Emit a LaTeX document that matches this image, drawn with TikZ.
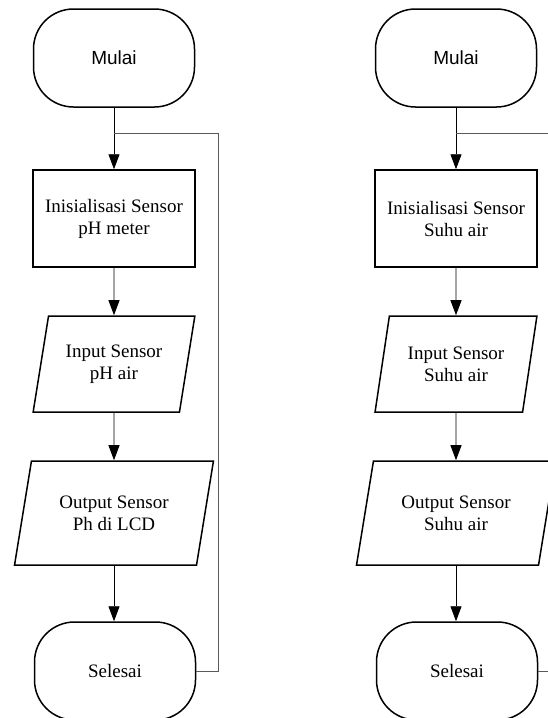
\documentclass[tikz,border=0pt]{standalone}
\usepackage{fontspec}
\setmainfont{Liberation Serif}
\newfontfamily\arialfont{Liberation Sans}
\usetikzlibrary{shapes.geometric,arrows.meta}

\tikzset
{%流程图样式
  base/.style={draw,line width=1.5pt,align=center,font=\fontsize{19}{22}\selectfont},
  term/.style={base,rectangle,rounded corners=40pt,minimum width=161pt,minimum height=98pt},
  proc/.style={base,rectangle,minimum width=162pt,minimum height=97pt},
  io/.style={base,trapezium,trapezium stretches=true,trapezium left angle=#1,
    trapezium right angle=180-#1},
  flow/.style={line width=0.9pt,-{Triangle[width=11pt,length=15pt]}},
  loop/.style={line width=0.9pt,black!65},
}

\begin{document}
\begin{tikzpicture}[x=1pt,y=-1pt]
\clip (0,0) rectangle (548,718);

\node[term,font=\arialfont\fontsize{19}{22}\selectfont] (m1) at (114,58) {Mulai};
\node[proc] (init1) at (114,218.5) {Inisialisasi Sensor\\pH meter};
\node[io=75,minimum width=162pt,minimum height=96pt] (in1) at (114,364) {Input Sensor\\pH air};
\node[io=74,minimum width=199pt,minimum height=104pt] (out1) at (114,513) {Output Sensor\\Ph di LCD};
\node[term] (sel1) at (115,671) {Selesai};
\coordinate (j1) at (114,133);
\coordinate (r1) at (218,133);

\draw[line width=0.9pt] (m1.south) -- (j1);
\draw[flow] (j1) -- (init1.north);
\draw[flow] (init1) -- (in1);
\draw[flow] (in1) -- (out1);
\draw[flow] (out1.south) -- (out1.south |- sel1.north);
\draw[loop] (sel1.east) -| (r1) -- (j1);

\node[term,font=\arialfont\fontsize{19}{22}\selectfont] (m2) at (456,58) {Mulai};
\node[proc] (init2) at (456,218.5) {Inisialisasi Sensor\\Suhu air};
\node[io=75,minimum width=162pt,minimum height=96pt] (in2) at (456,364) {Input Sensor\\Suhu air};
\node[io=74,minimum width=199pt,minimum height=104pt] (out2) at (456,513) {Output Sensor\\Suhu air};
\node[term] (sel2) at (457,671) {Selesai};
\coordinate (j2) at (456,133);
\coordinate (r2) at (560,133);

\draw[line width=0.9pt] (m2.south) -- (j2);
\draw[flow] (j2) -- (init2.north);
\draw[flow] (init2) -- (in2);
\draw[flow] (in2) -- (out2);
\draw[flow] (out2.south) -- (out2.south |- sel2.north);
\draw[loop] (sel2.east) -| (r2) -- (j2);
\end{tikzpicture}
\end{document}
